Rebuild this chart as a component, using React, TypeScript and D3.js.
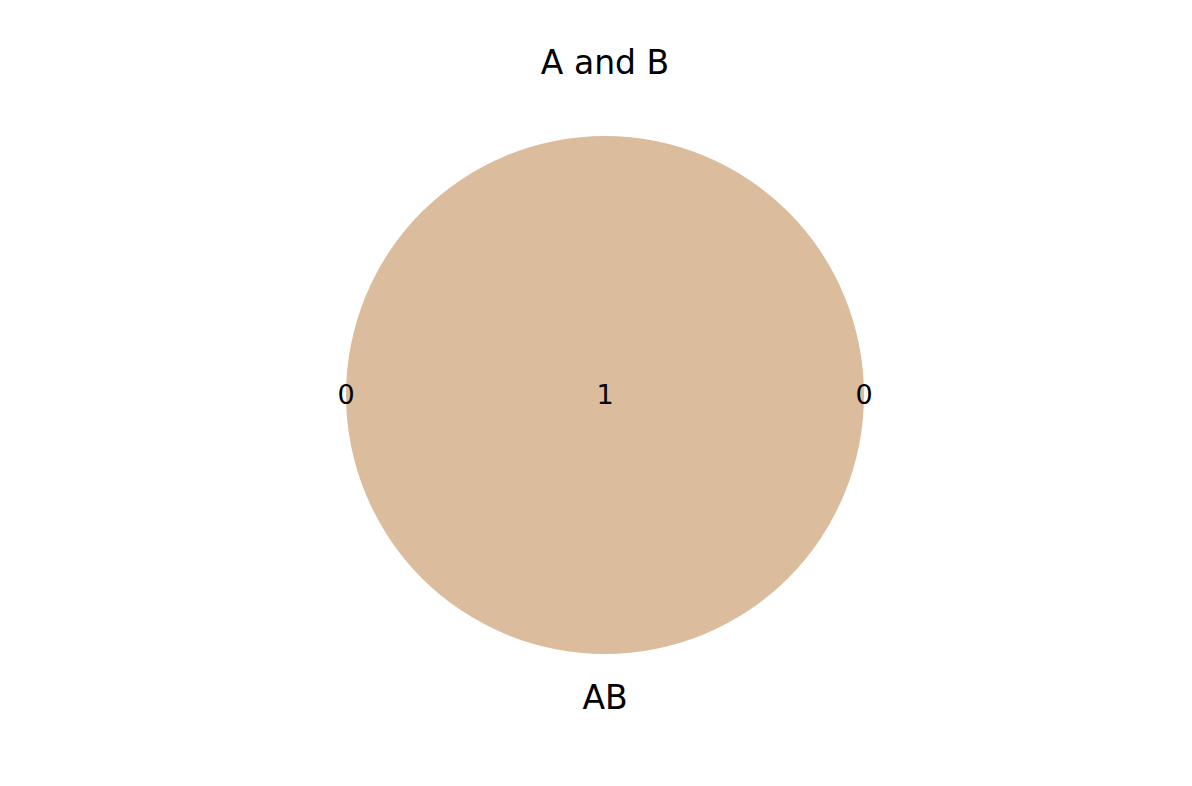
import * as d3 from "d3";
import React, { useEffect, useRef } from "react";

const setNames = ["A", "B"];
const regionCounts = [0, 1, 0];
const title = "A and B";

export default function App() {
  const ref = useRef<SVGSVGElement | null>(null);

  useEffect(() => {
    const svg = d3.select(ref.current);
    svg.selectAll("*").remove();

    const width = 1192;
    const height = 786;
    const cx = 605;
    const cy = 395;
    const r = 259;
    const font = "DejaVu Sans, sans-serif";

    // both sets are identical, so the circles coincide
    const x = d3.scaleLinear().domain([-1, 1]).range([cx - r, cx + r]);

    svg.attr("width", width).attr("height", height);

    svg
      .append("circle")
      .attr("cx", x(0))
      .attr("cy", cy)
      .attr("r", r)
      .attr("fill", "#dbbd9d");

    svg
      .append("text")
      .attr("x", x(0))
      .attr("y", 62)
      .attr("text-anchor", "middle")
      .attr("dy", "0.35em")
      .style("font-family", font)
      .style("font-size", "33px")
      .text(title);

    const pos = [-1, 0, 1];
    svg
      .selectAll("text.count")
      .data(regionCounts)
      .enter()
      .append("text")
      .attr("class", "count")
      .attr("x", (_, i) => x(pos[i]))
      .attr("y", cy)
      .attr("dy", "0.35em")
      .attr("text-anchor", "middle")
      .style("font-family", font)
      .style("font-size", "27px")
      .text((d) => String(d));

    svg
      .append("text")
      .attr("x", x(0))
      .attr("y", 697)
      .attr("dy", "0.35em")
      .attr("text-anchor", "middle")
      .style("font-family", font)
      .style("font-size", "33px")
      .text(setNames.join(""));
  }, []);

  return (
    <svg ref={ref} style={{ position: "absolute", left: 0, top: 0 }} />
  );
}
